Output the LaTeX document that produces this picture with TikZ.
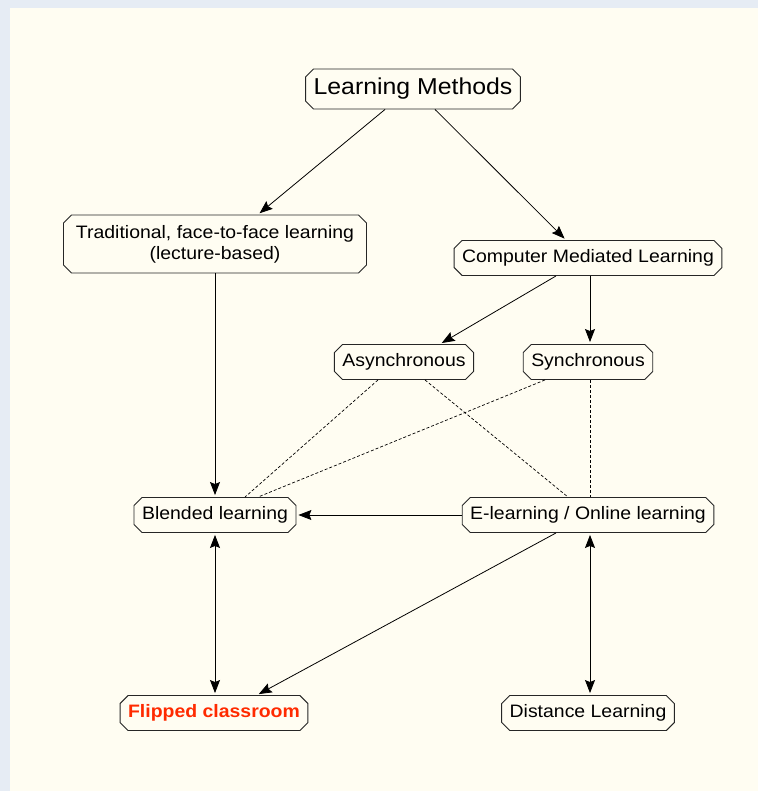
\documentclass[tikz,border=0pt]{standalone}
\usepackage{fontspec}
\setmainfont{Liberation Sans}[FakeStretch=1.08]
\usetikzlibrary{arrows.meta,shapes.misc}
\definecolor{pagebg}{HTML}{E6ECF4}
\definecolor{panelbg}{HTML}{FFFDF2}
\definecolor{flipred}{HTML}{FF2A00}
\tikzset{
  box/.style={chamfered rectangle, chamfered rectangle xsep=4pt, chamfered rectangle ysep=4pt,
    draw=black!85, line width=0.9pt,
    fill=panelbg, font=\fontsize{18}{21}\selectfont, inner xsep=4pt, inner ysep=0pt,
    minimum height=35pt, align=center},
  link/.style={line width=0.8pt, -{Stealth[length=13pt,width=10pt,inset=2pt]}, shorten >=2pt},
  twoway/.style={line width=0.8pt, {Stealth[length=13pt,width=10pt,inset=2pt]}-{Stealth[length=13pt,width=10pt,inset=2pt]},
    shorten >=2pt, shorten <=2pt},
  loose/.style={line width=0.7pt, densely dashed}
}

\begin{document}
\begin{tikzpicture}[x=1pt, y=-1pt]
			%%%%% START %%%%%

			\useasboundingbox (0, 0) rectangle (758, 791);
			\fill[pagebg] (0, 0) rectangle (758, 791);
			\fill[panelbg] (10, 8) rectangle (758, 791);

			\node[box, font=\fontsize{23}{26}\selectfont, minimum height=40pt] (methods) at (413, 89) {Learning Methods};

			\node[box, minimum width=303pt, minimum height=58pt] (trad) at (215, 244) {Traditional, face-to-face learning\\(lecture-based)};
			\node[box] (cml) at (588, 258) {Computer Mediated Learning};

			\node[box] (async) at (404, 362) {Asynchronous};
			\node[box] (sync) at (588, 362) {Synchronous};

			\node[box] (blend) at (215, 515) {Blended learning};
			\node[box] (elearn) at (588, 515) {E-learning / Online learning};

			\node[box, text=flipred, font=\fontsize{18}{21}\selectfont\bfseries] (flip) at (214, 713) {Flipped classroom};
			\node[box] (dist) at (588, 713) {Distance Learning};

			\draw[link] ([xshift=-28pt]methods.south) -- ([xshift=43pt]trad.north);
			\draw[link] ([xshift=22pt]methods.south) -- ([xshift=-22pt]cml.north);

			\draw[link] ([xshift=-32pt]cml.south) -- ([xshift=36pt]async.north);
			\draw[link] ([xshift=2pt]cml.south) -- ([xshift=2pt]sync.north);

			\draw[link] (trad.south) -- (blend.north);

			\draw[loose] ([xshift=-26pt]async.south) -- ([xshift=30pt]blend.north);
			\draw[loose] ([xshift=21pt]async.south) -- ([xshift=-20pt]elearn.north);
			\draw[loose] ([xshift=-43pt]sync.south) -- ([xshift=43pt]blend.north);
			\draw[loose] ([xshift=2pt]sync.south) -- ([xshift=2pt]elearn.north);

			\draw[link] (elearn.west) -- (blend.east);
			\draw[link] ([xshift=-32pt]elearn.south) -- ([xshift=43pt]flip.north);

			\draw[twoway] (blend.south) -- (flip.north -| blend.south);
			\draw[twoway] ([xshift=2pt]elearn.south) -- ([xshift=2pt]dist.north);

			%%%%% END %%%%%
\end{tikzpicture}
\end{document}
